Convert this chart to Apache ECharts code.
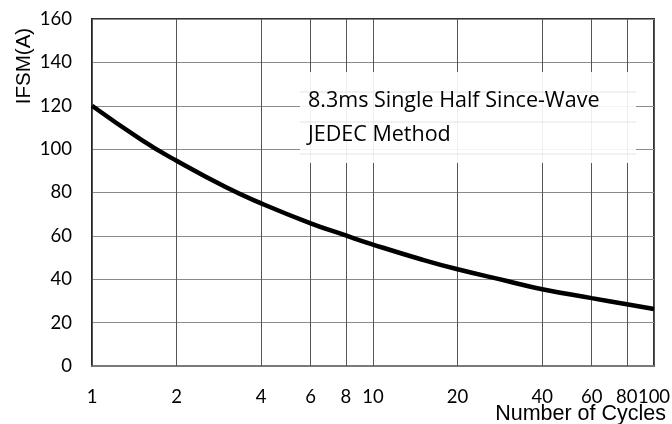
<!DOCTYPE html>
<html>
<head>
<meta charset="utf-8">
<script src="https://cdn.jsdelivr.net/npm/echarts@6/dist/echarts.min.js"></script>
<style>html,body{margin:0;padding:0;background:#fff}#c{width:672px;height:424px}</style>
</head>
<body>
<div id="c"></div>
<script>
var cycles = [1, 1.5, 2, 3, 4, 6, 8, 10, 15, 20, 30, 40, 60, 80, 100];
var ifsm   = [120, 104.3, 94.6, 82.4, 75, 65.8, 60.2, 56, 49, 44.6, 39.2, 35.4, 31.3, 28.5, 26.3];
var xTicks = [1, 2, 4, 6, 8, 10, 20, 40, 60, 80, 100];
var yTicks = [0, 20, 40, 60, 80, 100, 120, 140, 160];
var noteLines = ['8.3ms Single Half Since-Wave', 'JEDEC Method'];
var xName = 'Number of Cycles';
var yName = 'IFSM(A)';

var chart = echarts.init(document.getElementById('c'));
var seriesData = cycles.map(function (c, i) { return [c, ifsm[i]]; });
var tickFont = 'Lato, "Open Sans", sans-serif';

chart.setOption({
  animation: false,
  grid: { left: 92, right: 18, top: 19, bottom: 58, show: true, borderColor: '#333', borderWidth: 2, backgroundColor: 'transparent' },
  xAxis: {
    type: 'log', logBase: 10, min: xTicks[0], max: xTicks[xTicks.length - 1],
    axisLine: { show: true, lineStyle: { color: '#7a7a7a', width: 2 } },
    axisTick: { show: false }, axisLabel: { show: false }, splitLine: { show: false }, minorTick: { show: false }
  },
  yAxis: {
    type: 'value', min: yTicks[0], max: yTicks[yTicks.length - 1], interval: 20,
    axisLine: { show: true, lineStyle: { color: '#222', width: 2 } },
    axisTick: { show: false },
    axisLabel: { color: '#000', fontSize: 18.5, fontFamily: tickFont, margin: 20 },
    splitLine: { show: true, lineStyle: { color: '#8a8a8a', width: 1 } }
  },
  series: [{
    type: 'line', data: seriesData, smooth: 0.5, showSymbol: false, symbol: 'none',
    lineStyle: { color: '#000', width: 4.5 }, z: 5,
    markLine: {
      silent: true, symbol: ['none', 'none'], animation: false, z: 1,
      lineStyle: { color: '#555', width: 1, type: 'solid' },
      label: { show: true, position: 'start', distance: 22, color: '#000', fontSize: 18.5, fontFamily: tickFont,
        formatter: function (p) { return String(p.value); } },
      emphasis: { disabled: true },
      data: xTicks.map(function (t) { return { xAxis: t }; })
    }
  }],
  graphic: [
    { type: 'rect', z: 100, shape: { x: 300, y: 72, width: 336, height: 91 }, style: { fill: 'rgba(255,255,255,0.9)' } },
    { type: 'line', z: 101, shape: { x1: 300, y1: 92, x2: 636, y2: 92 }, style: { stroke: '#e4e4e4', lineWidth: 1 } },
    { type: 'line', z: 101, shape: { x1: 300, y1: 122, x2: 636, y2: 122 }, style: { stroke: '#e4e4e4', lineWidth: 1 } },
    { type: 'line', z: 101, shape: { x1: 300, y1: 154, x2: 636, y2: 154 }, style: { stroke: '#e4e4e4', lineWidth: 1 } },
    { type: 'text', z: 102, x: 308, y: 101, style: { text: noteLines[0], fill: '#000', font: '21.5px "Open Sans", Lato, sans-serif', textVerticalAlign: 'middle' } },
    { type: 'text', z: 102, x: 308, y: 135, style: { text: noteLines[1], fill: '#000', font: '21.5px "Open Sans", Lato, sans-serif', textVerticalAlign: 'middle' } },
    { type: 'text', z: 102, x: 666, y: 414, style: { text: xName, fill: '#000', font: '21.5px "Liberation Sans", Arial, sans-serif', textAlign: 'right', textVerticalAlign: 'middle' } },
    { type: 'text', z: 102, x: 24, y: 66, rotation: Math.PI / 2, style: { text: yName, fill: '#000', font: '20.5px "Liberation Sans", Arial, sans-serif', textAlign: 'center', textVerticalAlign: 'middle' } }
  ]
});
</script>
</body>
</html>
